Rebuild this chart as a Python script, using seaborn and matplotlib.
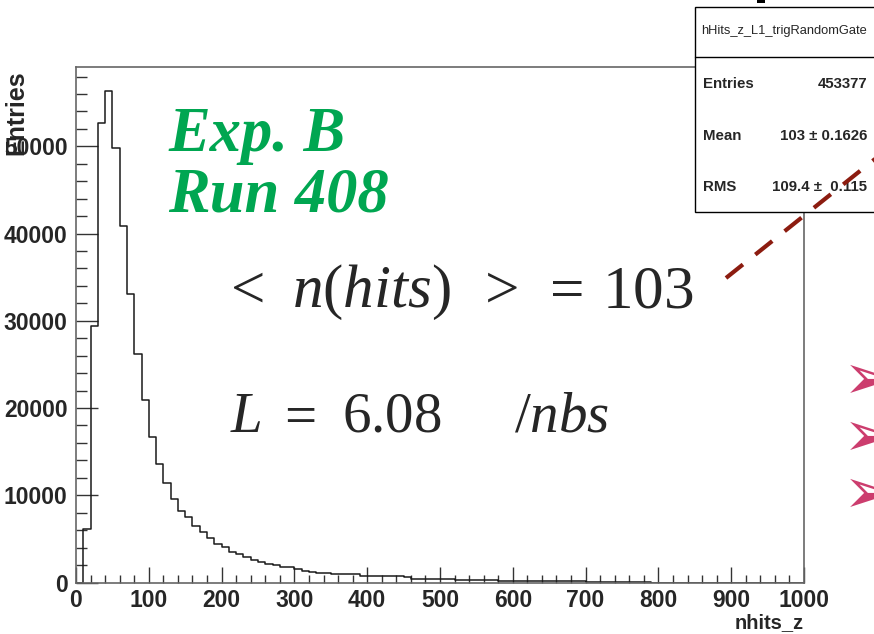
import numpy as np
import seaborn as sns
import pandas as pd
import matplotlib.pyplot as plt
from matplotlib.patches import Rectangle
from matplotlib.lines import Line2D
from matplotlib.ticker import MultipleLocator

# bin contents of hHits_z_L1_trigRandomGate, 10-wide bins from 0 to 1000
bin_width = 10
counts = [
    0, 6090, 29460, 52670, 56300, 49770, 40840, 33130, 26170, 20870,
    16710, 13630, 11400, 9610, 8230, 7470, 6440, 5750, 5060, 4450,
    4110, 3500, 3300, 2960, 2580, 2350, 2120, 1970, 1780, 1780,
    1510, 1360, 1240, 1130, 1130, 940, 940, 940, 940, 780,
    780, 780, 780, 780, 780, 630, 440, 440, 440, 440,
    440, 440, 325, 325, 325, 325, 325, 325, 172, 172,
    160, 155, 150, 145, 140, 135, 130, 125, 120, 115,
    110, 105, 100, 95, 90, 85, 80, 75, 70, 0,
    0, 0, 0, 0, 0, 0, 0, 0, 0, 0,
    0, 0, 0, 0, 0, 0, 0, 0, 0, 0,
]
stat_labels = ["Entries", "Mean", "RMS"]
stat_values = ["453377", "103 \u00b1 0.1626", "109.4 \u00b1  0.115"]
hist_name = "hHits_z_L1_trigRandomGate"
run_lines = ["Exp. B", "Run 408"]
# formula pieces: (text, centre x in px)
mean_pieces = [(r"$<$", 243), (r"$n(hits)$", 371), (r"$>$", 497),
               (r"$=$", 562), (r"$103$", 648)]
lumi_pieces = [(r"$L$", 246), (r"$=$", 296), (r"$6.08$", 392), (r"$/nbs$", 562)]

centers = np.arange(len(counts)) * bin_width + bin_width / 2
df = pd.DataFrame({"nhits_z": centers, "n": counts})

sns.set_style("ticks")
plt.rcParams["font.family"] = ["Liberation Sans", "DejaVu Sans"]
plt.rcParams["mathtext.fontset"] = "custom"
plt.rcParams["mathtext.rm"] = "Liberation Serif"
plt.rcParams["mathtext.it"] = "Liberation Serif:italic"

W, H = 874, 634
fig = plt.figure(figsize=(W / 100, H / 100), dpi=100)
ax = fig.add_axes([76 / W, 1 - 582.5 / H, 728 / W, 515.5 / H])


def px(x, y):
    return x / W, 1 - y / H


sns.histplot(data=df, x="nhits_z", weights="n", binwidth=bin_width,
             binrange=(0, 1000), element="step", fill=False,
             color="#1a1a1a", linewidth=1.1, ax=ax)

ax.set_xlim(0, 1000)
ax.set_ylim(0, 59100)
ax.xaxis.set_major_locator(MultipleLocator(100))
ax.xaxis.set_minor_locator(MultipleLocator(20))
ax.yaxis.set_major_locator(MultipleLocator(10000))
ax.yaxis.set_minor_locator(MultipleLocator(2000))
ax.tick_params(axis="x", which="major", direction="in", length=11.3, width=1,
               color="#333333", labelsize=16.5, pad=5)
ax.tick_params(axis="x", which="minor", direction="in", length=5.5, width=1,
               color="#333333")
ax.tick_params(axis="y", which="major", direction="in", length=15.8, width=1,
               color="#333333", labelsize=16.5, pad=6)
ax.tick_params(axis="y", which="minor", direction="in", length=8, width=1,
               color="#333333")
for lab in ax.get_xticklabels() + ax.get_yticklabels():
    lab.set_fontweight("bold")
for s in ax.spines.values():
    s.set_color("#666666")
    s.set_linewidth(1.2)

ax.set_xlabel("nhits_z", fontsize=14.5, fontweight="bold", loc="right")
ax.xaxis.set_label_coords(1.0, -0.059)
ax.set_ylabel("Entries", fontsize=18, fontweight="bold", loc="top")
ax.yaxis.set_label_coords(-0.066, 0.994)

# annotations
green = "#00A651"
for text, base in zip(run_lines, [151, 212]):
    fig.text(*px(168, base), text, color=green, fontsize=45, fontweight="bold",
             fontstyle="italic", family="Liberation Serif", va="baseline")
for text, xc in mean_pieces:
    fig.text(*px(xc, 307), text, fontsize=44, ha="center", va="baseline")
for text, xc in lumi_pieces:
    fig.text(*px(xc, 432), text, fontsize=41, ha="center", va="baseline")

# stats box (title of the pad cut at the top edge)
fig.patches.append(Rectangle(px(757, 3), 8 / W, 3 / H, transform=fig.transFigure,
                             facecolor="black", edgecolor="none"))
fig.patches.append(Rectangle(px(695, 212), 200 / W, 205 / H, transform=fig.transFigure,
                             facecolor="white", edgecolor="black", linewidth=1, zorder=5))
fig.lines.append(Line2D([695 / W, 1], [1 - 57 / H] * 2, transform=fig.transFigure,
                        color="black", linewidth=1, zorder=6))
fig.text(*px(701, 31), hist_name, fontsize=9.3, va="center", zorder=7)
for i, (lab, val) in enumerate(zip(stat_labels, stat_values)):
    y = 84 + 51.5 * i
    fig.text(*px(703, y), lab, fontsize=10.8, fontweight="bold", va="center", zorder=7)
    fig.text(*px(867, y), val, fontsize=10.8, fontweight="bold", va="center",
             ha="right", zorder=7)

# dashed pointer and bullets
fig.lines.append(Line2D([726 / W, 880 / W], [1 - 278 / H, 1 - 155 / H],
                        transform=fig.transFigure, color="#8C1C10", linewidth=3,
                        dashes=(5.2, 3.8), zorder=8))
for y in [381, 438, 495]:
    fig.text(*px(843, y), "\u27a2", color="#CC3D6E", fontsize=46, va="center",
             family="DejaVu Sans")

fig.savefig("out.png", dpi=100)
